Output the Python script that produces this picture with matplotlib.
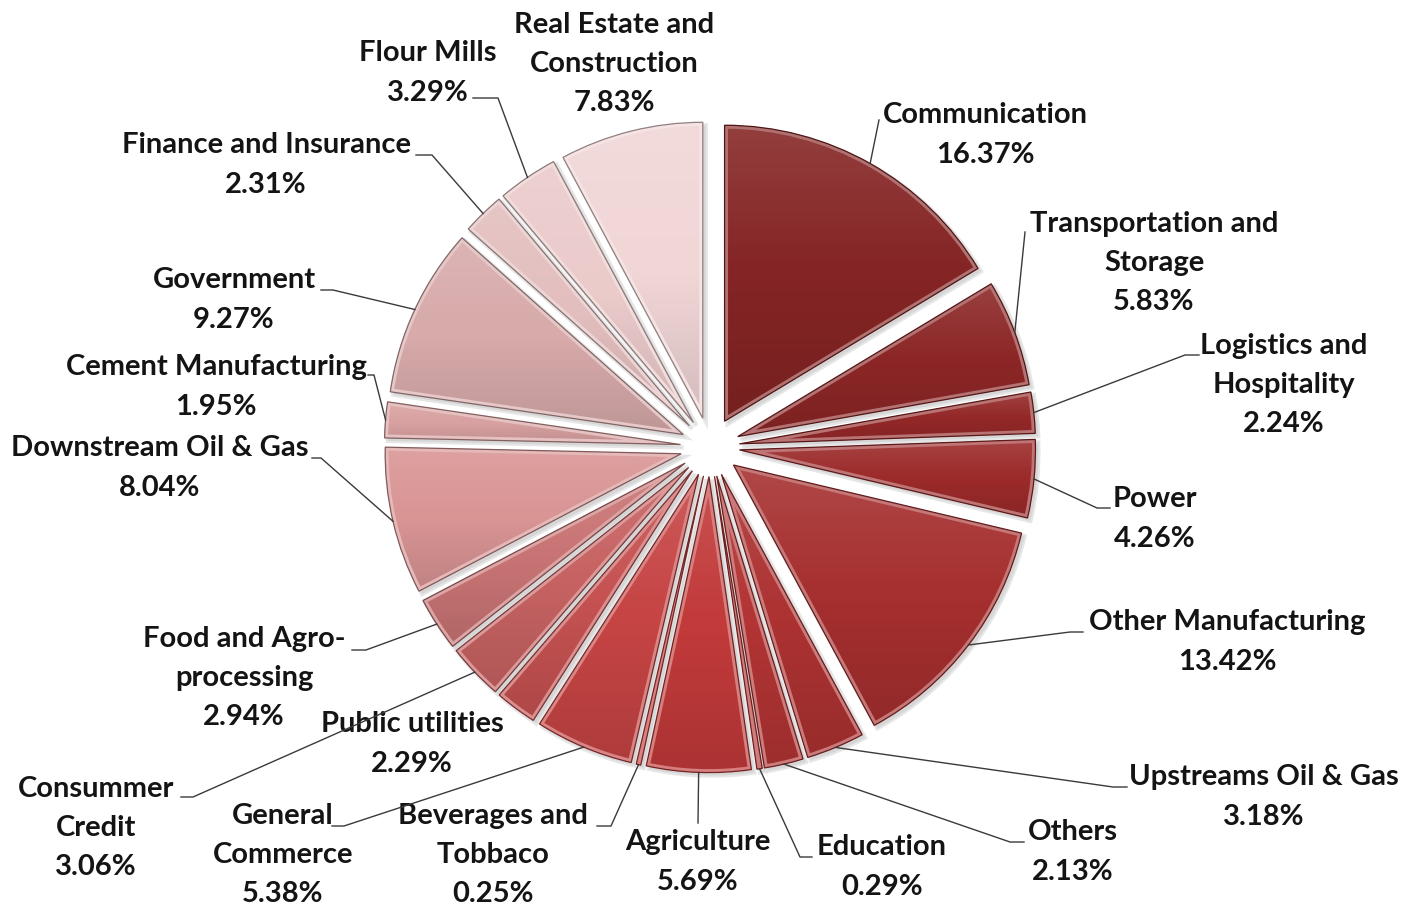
import numpy as np
import matplotlib.pyplot as plt
from matplotlib.patches import Wedge
from matplotlib.colors import to_rgb

# sectors, clockwise from 12 o'clock
sectors = ["Communication", "Transportation and\nStorage", "Logistics and\nHospitality",
           "Power", "Other Manufacturing", "Upstreams Oil & Gas", "Others", "Education",
           "Agriculture", "Beverages and\nTobbaco", "General\nCommerce", "Public utilities",
           "Consummer\nCredit", "Food and Agro-\nprocessing", "Downstream Oil & Gas",
           "Cement Manufacturing", "Government", "Finance and Insurance", "Flour Mills",
           "Real Estate and\nConstruction"]
shares = [16.37, 5.83, 2.24, 4.26, 13.42, 3.18, 2.13, 0.29, 5.69, 0.25,
          5.38, 2.29, 3.06, 2.94, 8.04, 1.95, 9.27, 2.31, 3.29, 7.83]

colors = ["#852424", "#8C2626", "#942828", "#9C2A2A", "#A62F2F", "#AD3232", "#B23434",
          "#B83636", "#C23A3A", "#C43D3D", "#C64444", "#C65252", "#C76262", "#C97474",
          "#D99494", "#D8A0A0", "#D8AAAA", "#E3BEBE", "#EBCACA", "#F1D6D6"]

# label block centres (pixels, y from top) and leader elbows/ends
label_pos = [(985, 135), (1154, 263), (1284, 385), (1155, 519), (1227, 642), (1264, 797),
             (1073, 852), (882, 867), (698, 862), (493, 855), (283, 855), (412, 744),
             (96, 828), (244, 678), (160, 468), (216, 387), (234, 300), (266, 165),
             (428, 73), (614, 64)]
leaders = [[(879, 120)], [(1025, 232)], [(1185, 355), (1199, 355)], [(1097, 508), (1110, 508)],
           [(1070, 632), (1083, 632)], [(1113, 787), (1127, 787)], [(1010, 842), (1024, 842)],
           [(800, 857), (812, 857)], [(698, 823)], [(611, 826), (597, 826)],
           [(344, 826), (332, 826)], None, [(193, 797), (181, 797)], [(366, 650), (352, 650)],
           [(321, 458), (312, 458)], [(374, 375), (368, 375)], [(333, 290), (321, 290)],
           [(432, 155), (416, 155)], [(498, 98), (473, 98)], None]

W, H = 1406, 907
fig = plt.figure(figsize=(W / 100, H / 100), dpi=100)
ax = fig.add_axes([0, 0, 1, 1])

cx, cy, R = 710, H - 447, 296

# pie explode is in data units here
wedges, _ = ax.pie(shares, colors=colors, startangle=90, counterclock=False,
                   explode=[0.1 * R] * len(shares), radius=R, center=(cx, cy),
                   wedgeprops=dict(edgecolor="none", linewidth=0))

# vertical shading: lighter top, darker bottom
t = np.linspace(0, 1, 64)
grad = np.zeros((64, 2, 4))
grad[:, :, :3] = np.where(t < 0.5, 1.0, 0.0)[:, None, None]
grad[:, :, 3] = (np.abs(t - 0.5) * 0.24)[:, None]

for w, c in zip(wedges, colors):
    w.set_zorder(2)
    # soft shadow
    sh = Wedge((w.center[0] + 3, w.center[1] - 3), w.r, w.theta1, w.theta2,
               facecolor="#bdbdbd", edgecolor="#d6d6d6", linewidth=3, alpha=0.6, zorder=1)
    ax.add_patch(sh)
    x0, y0, x1, y1 = w.get_path().get_extents().extents
    im = ax.imshow(grad, extent=(x0, x1, y0, y1), aspect="auto", zorder=3,
                   interpolation="bilinear")
    im.set_clip_path(w)
    rgb = np.array(to_rgb(c))
    light = rgb + (1 - rgb) * 0.35
    dark = rgb * 0.6
    bevel = Wedge(w.center, w.r, w.theta1, w.theta2, fill=False,
                  edgecolor=light, linewidth=5, zorder=4)
    ax.add_patch(bevel)
    bevel.set_clip_path(w)
    ax.add_patch(Wedge(w.center, w.r, w.theta1, w.theta2, fill=False,
                       edgecolor=dark, linewidth=0.9, zorder=5))

for w, name, share, pos, lead in zip(wedges, sectors, shares, label_pos, leaders):
    ax.text(pos[0], H - pos[1], f"{name}\n{share:.2f}%", ha="center", va="center",
            fontsize=21, fontweight="bold", family="Lato", linespacing=1.62,
            color="#141414", zorder=6)
    if lead is None:
        continue
    mid = np.deg2rad((w.theta1 + w.theta2) / 2)
    px = w.center[0] + w.r * np.cos(mid)
    py = w.center[1] + w.r * np.sin(mid)
    xs = [px] + [p[0] for p in lead]
    ys = [py] + [H - p[1] for p in lead]
    ax.plot(xs, ys, color="#3a3a3a", linewidth=1, zorder=6)

ax.set_xlim(0, W)
ax.set_ylim(0, H)
ax.set_aspect("equal")
ax.axis("off")
fig.savefig("out.png", dpi=100, facecolor="white")
